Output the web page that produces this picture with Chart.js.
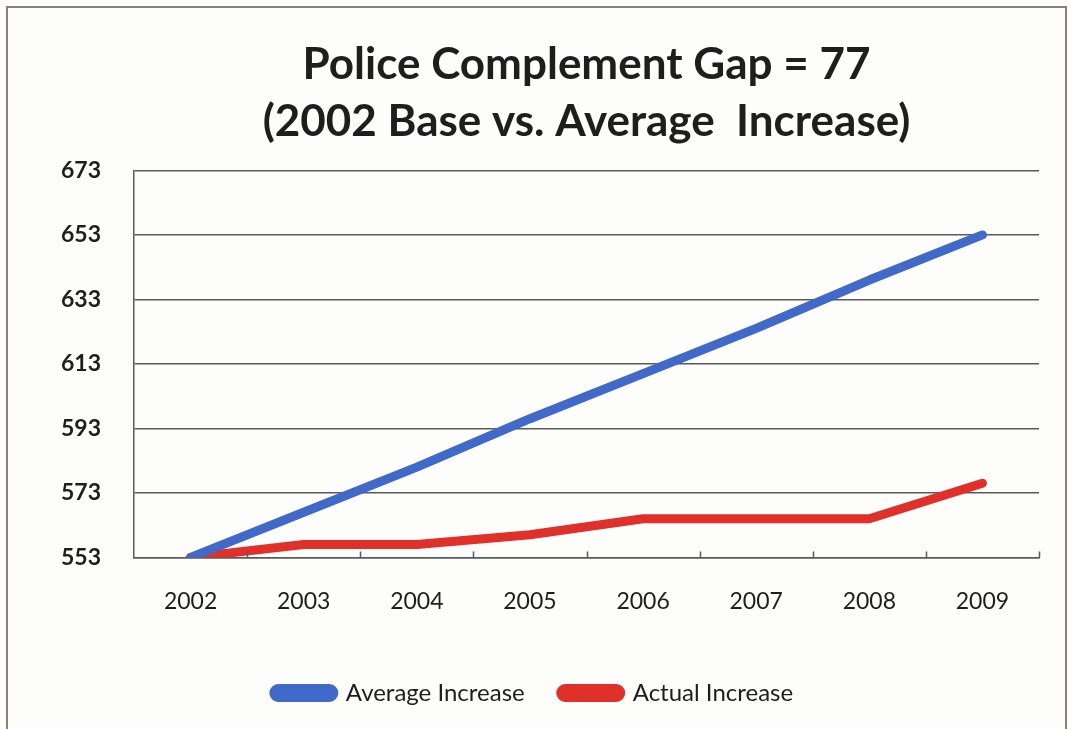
<!DOCTYPE html>
<html>
<head>
<meta charset="utf-8">
<title>Police Complement Gap</title>
<script src="https://cdn.jsdelivr.net/npm/chart.js@4.4.1/dist/chart.umd.min.js"></script>
<style>
	html, body { margin: 0; padding: 0; background: #fdfdfb; }
	#wrap { position: relative; width: 1071px; height: 729px; overflow: hidden; }
	#frame {
		position: absolute; left: 6px; top: 6px; width: 1061px; height: 740px;
		border: 2px solid #85826f; box-sizing: border-box;
	}
	#gap-chart { position: absolute; left: 0; top: 0; }
</style>
</head>
<body>
<div id="wrap">
	<div id="frame"></div>
	<canvas id="gap-chart" width="1071" height="729"></canvas>
</div>
<script>
/* global Chart */
( function () {
	'use strict';

	// ── Data ──────────────────────────────────────────────────────────────────
	var years           = [ '2002', '2003', '2004', '2005', '2006', '2007', '2008', '2009' ];
	var averageIncrease = [ 553, 567, 581, 596, 610, 624, 639, 653 ];
	var actualIncrease  = [ 553, 557, 557, 560, 565, 565, 565, 576 ];
	var yMin  = 553;
	var yMax  = 673;
	var yStep = 20;

	var titleLines = [ 'Police Complement Gap = 77', '(2002 Base vs. Average  Increase)' ];

	// ── Style ─────────────────────────────────────────────────────────────────
	var FONT = 'Lato, "Open Sans", sans-serif';
	var INK  = '#1e1e1e';
	var GRID = '#5a5a5a';
	var BLUE = '#4169c9';
	var RED  = '#e0302a';

	// Short upward marks on the category axis, at each category boundary.
	var innerTicks = {
		id : 'innerTicks',
		afterDatasetsDraw : function ( chart ) {
			var x   = chart.scales.x;
			var ctx = chart.ctx;
			var n   = years.length;
			var w   = ( x.right - x.left ) / n;
			ctx.save();
			ctx.strokeStyle = GRID;
			ctx.lineWidth   = 1.5;
			ctx.beginPath();
			for ( var i = 1; i <= n; i++ ) {
				var px = Math.round( x.left + w * i ) + 0.5;
				ctx.moveTo( px, chart.chartArea.bottom );
				ctx.lineTo( px, chart.chartArea.bottom - 6 );
			}
			ctx.stroke();
			ctx.restore();
		},
	};

	function lineSet( label, data, color ) {
		return {
			label            : label,
			data             : data,
			borderColor      : color,
			backgroundColor  : color,
			borderWidth      : 9,
			borderCapStyle   : 'round',
			borderJoinStyle  : 'round',
			pointRadius      : 0,
			pointHoverRadius : 0,
			tension          : 0,
			fill             : false,
		};
	}

	new Chart( document.getElementById( 'gap-chart' ), {
		type : 'line',
		data : {
			labels   : years,
			datasets : [
				lineSet( 'Average Increase', averageIncrease, BLUE ),
				lineSet( 'Actual Increase', actualIncrease, RED ),
			],
		},
		options : {
			responsive : false,
			animation  : false,
			layout     : { padding: { left: 28, right: 32, top: 8, bottom: 14 } },
			plugins    : {
				title : {
					display  : true,
					text     : titleLines,
					fullSize : false,
					color    : INK,
					font     : { family: FONT, size: 44, weight: 'bold', lineHeight: 1.3 },
					padding  : { top: 28, bottom: 20 },
				},
				legend : {
					position : 'bottom',
					labels   : {
						color          : INK,
						font           : { family: FONT, size: 24 },
						boxWidth       : 60,
						boxHeight      : 9,
						useBorderRadius: true,
						borderRadius   : 4.5,
						padding        : 36,
					},
				},
				tooltip : { enabled: false },
			},
			scales : {
				x : {
					offset : true,
					grid   : { display: false, drawTicks: false },
					border : { display: true, color: GRID, width: 1.5 },
					ticks  : { color: INK, padding: 30, font: { family: FONT, size: 23 } },
				},
				y : {
					min    : yMin,
					max    : yMax,
					grid   : { color: GRID, lineWidth: 1.5, drawTicks: false },
					border : { display: true, color: GRID, width: 1.5 },
					ticks  : {
						stepSize : yStep,
						color    : INK,
						padding  : 33,
						font     : { family: FONT, size: 23, weight: 'bold' },
					},
				},
			},
		},
		plugins : [ innerTicks ],
	} );

}() );
</script>
</body>
</html>
